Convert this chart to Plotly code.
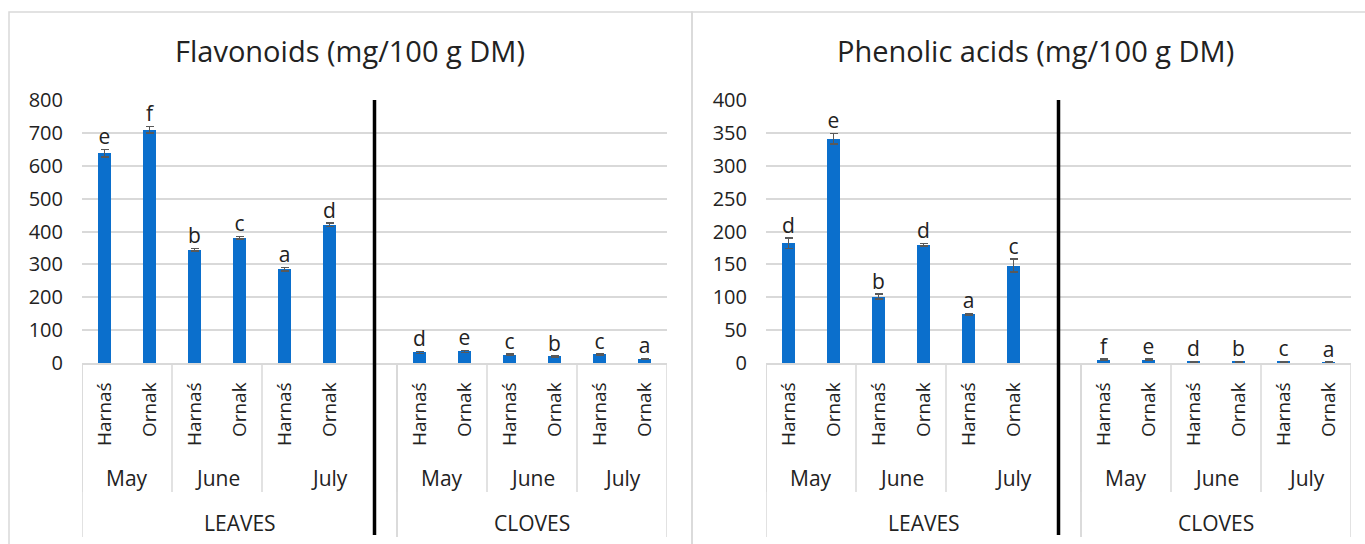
import plotly.graph_objects as go

# ---------------- data ----------------
organs = ["LEAVES", "CLOVES"]
months = ["May", "June", "July"]
varieties = ["Harnaś", "Ornak"]

flav_values = [638, 710, 344, 381, 285, 420, 32, 35, 25, 20, 26, 12]
flav_errors = [12, 10, 4, 4, 5, 5, 3, 3, 2, 2, 2, 1]
flav_letters = ["e", "f", "b", "c", "a", "d", "d", "e", "c", "b", "c", "a"]

phen_values = [182, 341, 101, 180, 74, 148, 5, 5, 2, 2, 2, 1]
phen_errors = [8, 8, 4, 2, 1, 10, 1, 1, 0.5, 0.5, 0.5, 0.3]
phen_letters = ["d", "e", "b", "d", "a", "c", "f", "e", "d", "b", "c", "a"]

titles = ["Flavonoids (mg/100 g DM)", "Phenolic acids (mg/100 g DM)"]
y_max = [800, 400]
y_step = [100, 50]

# ---------------- layout helpers ----------------
W, H = 1365, 544
FONT = "Open Sans"
TXT = "#222222"
GRID = "#d9d9d9"
BAR = "#0B6FCC"

def py(p):  # pixel y -> paper
    return 1 - p / H

def px(p):
    return p / W

# category slots: 6 leaves bars, an empty slot, 6 cloves bars
xpos = []
slot = 0
organ_bounds = []
month_bounds = []
for oi, organ in enumerate(organs):
    start = slot - 0.5
    for mi, m in enumerate(months):
        mstart = slot - 0.5
        for v in varieties:
            xpos.append(slot)
            slot += 1
        if oi == 0 and mi == len(months) - 1:
            slot += 1  # empty slot after leaves
        month_bounds.append((m, mstart, slot - 0.5))
    organ_bounds.append((organ, start, slot - 0.5))
tick_text = [v for o in organs for m in months for v in varieties]
divider_x = (organ_bounds[0][2] + xpos[5]) / 2 + 0.25

panels = [
    dict(vals=flav_values, errs=flav_errors, lets=flav_letters,
         dom=(82, 667), frame=(9, 692), title_x=350),
    dict(vals=phen_values, errs=phen_errors, lets=phen_letters,
         dom=(766, 1351), frame=(692, 1380), title_x=1035),
]

fig = go.Figure()
shapes = []
annotations = []
y_top_px, y_bot_px = 100, 363

for i, p in enumerate(panels):
    xa = "x" if i == 0 else "x2"
    ya = "y" if i == 0 else "y2"
    fig.add_trace(go.Bar(
        x=xpos, y=p["vals"], xaxis=xa, yaxis=ya, width=0.31,
        marker=dict(color=BAR, line=dict(width=0)),
        error_y=dict(type="data", array=p["errs"], visible=True,
                     color="#595959", thickness=1.6, width=4),
        showlegend=False, hoverinfo="skip"))
    fig.add_trace(go.Scatter(
        x=xpos, y=[v + e for v, e in zip(p["vals"], p["errs"])],
        xaxis=xa, yaxis=ya, mode="text", text=p["lets"],
        textposition="top center", cliponaxis=False,
        textfont=dict(family=FONT, size=21, color=TXT),
        showlegend=False, hoverinfo="skip"))

    axis_sfx = "" if i == 0 else "2"
    fig.update_layout(**{
        "xaxis" + axis_sfx: dict(
            domain=[px(p["dom"][0]), px(p["dom"][1])],
            anchor=ya, range=[-0.5, slot - 0.5], automargin=False,
            tickmode="array", tickvals=xpos, ticktext=tick_text,
            tickangle=-90, ticks="", showgrid=False, zeroline=False,
            showline=True, linecolor=GRID, linewidth=1.5,
            ticklabelstandoff=10,
            tickfont=dict(family=FONT, size=19, color=TXT)),
        "yaxis" + axis_sfx: dict(
            domain=[py(y_bot_px), py(y_top_px)], anchor=xa,
            range=[0, y_max[i]], dtick=y_step[i], showgrid=True,
            automargin=False,
            gridcolor=GRID, gridwidth=1.5, zeroline=False, showline=False,
            ticks="", ticklabelstandoff=18,
            tickfont=dict(family=FONT, size=20, color=TXT)),
    })

    # panel frame
    shapes.append(dict(type="rect", xref="paper", yref="paper",
                       x0=px(p["frame"][0]), x1=px(p["frame"][1]),
                       y0=py(560), y1=py(12),
                       line=dict(color=GRID, width=1.5), layer="below"))
    # title
    annotations.append(dict(xref="paper", yref="paper",
                            x=px(p["title_x"]),
                            y=py(50), text=titles[i], showarrow=False,
                            xanchor="center", yanchor="middle",
                            font=dict(family=FONT, size=29, color=TXT)))
    # month labels and separators
    for m, a, b in month_bounds:
        annotations.append(dict(xref=xa, yref="paper", x=(a + b) / 2,
                                y=py(478), text=m, showarrow=False,
                                xanchor="center", yanchor="middle",
                                font=dict(family=FONT, size=21, color=TXT)))
        shapes.append(dict(type="line", xref=xa, yref="paper", x0=a, x1=a,
                           y0=py(y_bot_px), y1=py(492),
                           line=dict(color=GRID, width=1.5)))
    for o, a, b in organ_bounds:
        annotations.append(dict(xref=xa, yref="paper", x=(a + b) / 2,
                                y=py(523), text=o, showarrow=False,
                                xanchor="center", yanchor="middle",
                                font=dict(family=FONT, size=21, color=TXT)))
        for xx in (a, b):
            shapes.append(dict(type="line", xref=xa, yref="paper", x0=xx, x1=xx,
                               y0=py(y_bot_px), y1=py(537),
                               line=dict(color=GRID, width=1.5)))
    # black divider between leaves and cloves
    shapes.append(dict(type="line", xref=xa, yref="paper",
                       x0=divider_x, x1=divider_x,
                       y0=py(y_top_px), y1=py(535),
                       line=dict(color="black", width=3.5)))

fig.update_layout(width=W, height=H, autosize=False,
                  margin=dict(l=0, r=0, t=0, b=0, pad=0, autoexpand=False),
                  paper_bgcolor="white", plot_bgcolor="white",
                  shapes=shapes, annotations=annotations, bargap=0)
fig.write_html("out.html", config={"displayModeBar": False},
               post_script="document.body.style.margin='0';"
                           "document.body.style.overflow='hidden';")
